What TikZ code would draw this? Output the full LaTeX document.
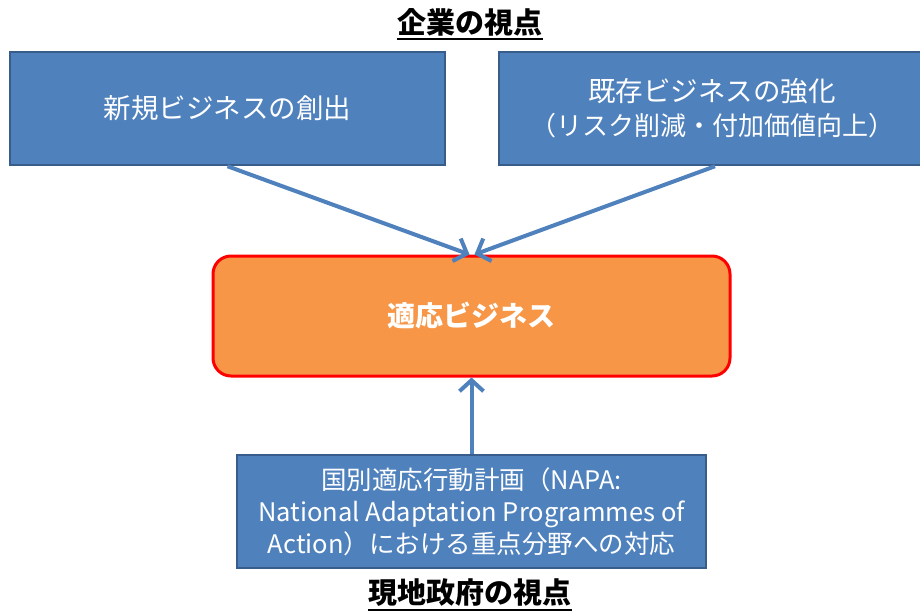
\documentclass[tikz,border=0pt]{standalone}
\usepackage{fontspec}
\newfontfamily\jp{Noto Sans CJK JP}
\usetikzlibrary{arrows.meta,calc}
\definecolor{boxblue}{HTML}{4F81BD}
\definecolor{boxedge}{HTML}{385D8A}
\definecolor{orangefill}{HTML}{F79646}
\begin{document}
\begin{tikzpicture}[x=1pt,y=-1pt,
  bluebox/.style={draw=boxedge,line width=2.5pt,fill=boxblue,text=white,align=center,inner sep=0pt,font=\jp\fontsize{27.5}{34}\selectfont},
  centerbox/.style={draw=red,line width=3pt,fill=orangefill,rounded corners=18pt,text=white,align=center,inner sep=0pt,font=\jp\bfseries\fontsize{28}{32}\selectfont},
  titletext/.style={inner sep=0pt,font=\jp\bfseries\fontsize{29}{32}\selectfont},
  conn/.style={draw=boxblue,line width=4pt,-{Straight Barb[length=11pt,width=24pt,line width=4pt]}}
]
\useasboundingbox (0,0) rectangle (920,610);
\clip (0,0) rectangle (920,610);
\fill[white] (0,0) rectangle (920,610);

\node[titletext] (t1) at (470,22) {企業の視点};
\draw[line width=2pt] ($(t1.south west)+(0,3)$) -- ($(t1.south east)+(0,3)$);

\node[bluebox,minimum width=435pt,minimum height=113pt] (b1) at (227.5,108.5) {新規ビジネスの創出};
\node[bluebox,minimum width=426pt,minimum height=113pt] (b2) at (712,108.5) {既存ビジネスの強化\\{\fontsize{26}{34}\selectfont（リスク削減・付加価値向上）}};

\node[centerbox,minimum width=517pt,minimum height=120pt] (c) at (471.5,316) {適応ビジネス};

\node[bluebox,minimum width=469pt,minimum height=113pt,font=\jp\fontsize{25.5}{32}\selectfont] (b3) at (471.5,511.5) {国別適応行動計画（NAPA:\\National Adaptation Programmes of\\Action）における重点分野への対応};

\node[titletext] (t2) at (470,593) {現地政府の視点};
\draw[line width=2pt] ($(t2.south west)+(0,3)$) -- ($(t2.south east)+(0,3)$);

\coordinate (cl) at ($(c.north)+(-2,0)$);
\coordinate (cr) at ($(c.north)+(3,0)$);
\draw[conn] (b1.south) -- (cl);
\draw[conn] ($(b2.south)+(3,0)$) -- (cr);
\draw[conn] (b3.north) -- (c.south);
\end{tikzpicture}
\end{document}
